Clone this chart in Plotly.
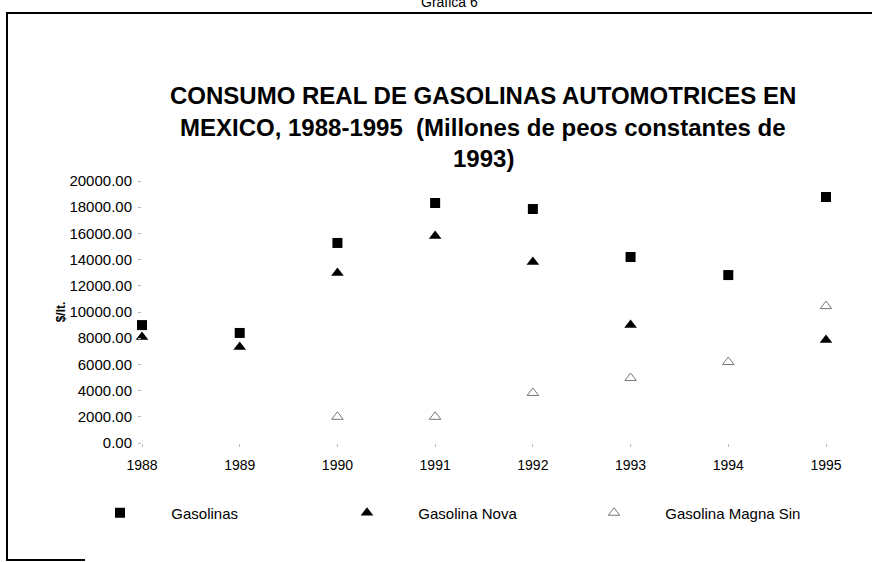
import plotly.graph_objects as go

years = [1988, 1989, 1990, 1991, 1992, 1993, 1994, 1995]
gasolinas = [9000, 8400, 15270, 18320, 17860, 14200, 12820, 18780]
gasolina_nova = [8100, 7330, 12980, 15800, 13820, 9010, None, 7860]
gasolina_magna_sin = [None, None, 2000, 2000, 3820, 4960, 6180, 10450]
y_ticks = [0, 2000, 4000, 6000, 8000, 10000, 12000, 14000, 16000, 18000, 20000]

title_lines = [
    "CONSUMO REAL DE GASOLINAS AUTOMOTRICES EN",
    "MEXICO, 1988-1995  (Millones de peos constantes de",
    "1993)",
]

FONT = "Liberation Sans, Arial, sans-serif"
PAD = "\u00a0\u00a0"

# plot area in pixels
L, R, T, B = 142, 826, 181, 443
W, H = 872, 562


def px_x(px):
    return (px - L) / (R - L)


def px_y(py):
    return (B - py) / (B - T)


fig = go.Figure()
fig.add_trace(go.Scatter(
    x=years, y=gasolinas, mode="markers", name=PAD + "Gasolinas",
    marker=dict(symbol="square", size=10, color="black"), cliponaxis=False))
fig.add_trace(go.Scatter(
    x=years, y=gasolina_nova, mode="markers", name=PAD + "Gasolina Nova",
    marker=dict(symbol="triangle-up", size=11, color="black"), cliponaxis=False))
fig.add_trace(go.Scatter(
    x=years, y=gasolina_magna_sin, mode="markers", name=PAD + "Gasolina Magna Sin",
    marker=dict(symbol="triangle-up-open", size=10, color="#777777",
                line=dict(width=1, color="#777777")), cliponaxis=False))

annotations = []
for line, py in zip(title_lines, [96, 127, 158]):
    annotations.append(dict(
        text="<b>%s</b>" % line, xref="paper", yref="paper",
        x=px_x(483), y=px_y(py), xanchor="center", yanchor="middle",
        showarrow=False, font=dict(family=FONT, size=24, color="black")))
annotations.append(dict(
    text="Grafica 6", xref="paper", yref="paper", x=px_x(449), y=px_y(12),
    xanchor="center", yanchor="bottom", showarrow=False,
    font=dict(family=FONT, size=14, color="black")))

shapes = [
    dict(type="line", xref="paper", yref="paper", x0=px_x(7), x1=px_x(872),
         y0=px_y(13), y1=px_y(13), line=dict(color="black", width=2)),
    dict(type="line", xref="paper", yref="paper", x0=px_x(7), x1=px_x(7),
         y0=px_y(12), y1=px_y(561), line=dict(color="black", width=2)),
    dict(type="line", xref="paper", yref="paper", x0=px_x(7), x1=px_x(85),
         y0=px_y(560), y1=px_y(560), line=dict(color="black", width=2)),
]

fig.update_layout(
    width=W, height=H,
    margin=dict(l=L, r=W - R, t=T, b=H - B, pad=0),
    paper_bgcolor="white", plot_bgcolor="white",
    font=dict(family=FONT, size=12, color="black"),
    showlegend=True,
    legend=dict(orientation="h", x=px_x(77), y=px_y(513), xanchor="left",
                yanchor="middle", font=dict(family=FONT, size=15, color="black"),
                itemwidth=76, entrywidth=156, bgcolor="rgba(0,0,0,0)"),
    xaxis=dict(range=[1988, 1995], tickvals=years, ticktext=[str(y) for y in years],
               showgrid=False, zeroline=False, showline=False,
               ticks="outside", ticklen=3, tickcolor="#bbbbbb", tickwidth=1,
               ticklabelstandoff=6,
               tickfont=dict(family=FONT, size=14, color="black")),
    yaxis=dict(range=[0, 20000], tickvals=y_ticks, tickformat=".2f",
               showgrid=False, zeroline=False, showline=False,
               ticks="outside", ticklen=3, tickcolor="#bbbbbb", tickwidth=1,
               ticklabelstandoff=3,
               tickfont=dict(family=FONT, size=15, color="black"),
               title=dict(text="<b>$/lt.</b>", standoff=1,
                          font=dict(family=FONT, size=12, color="black"))),
    annotations=annotations, shapes=shapes,
)

fig.write_html("out.html", config={"displayModeBar": False},
               post_script="document.body.style.margin='0px';")
